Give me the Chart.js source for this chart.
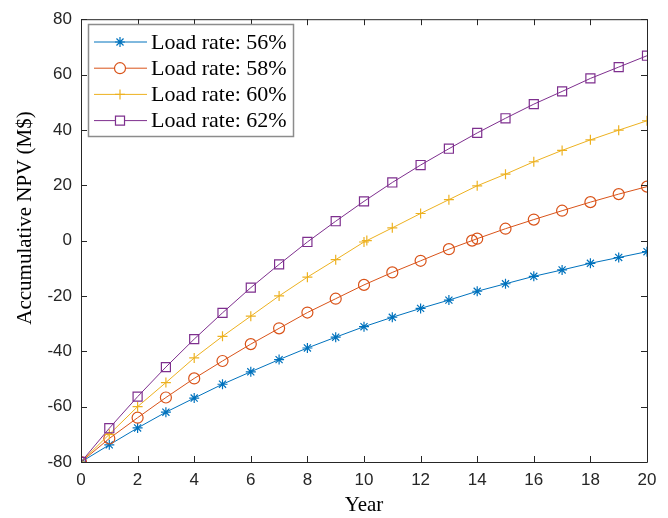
<!DOCTYPE html>
<html lang="en">
<head>
  <meta charset="UTF-8" />
  <title>Accumulative NPV</title>
  <script src="https://cdn.jsdelivr.net/npm/chart.js"></script>
  <style>
    body { margin: 0; background: #fff; }
    canvas { display: block; }
  </style>
</head>
<body>
  <canvas id="npvChart" width="668" height="518"></canvas>

  <script>
    // data
    const years = [0, 1, 2, 3, 4, 5, 6, 7, 8, 9, 10, 11, 12, 13, 14, 15, 16, 17, 18, 19, 20];
    const npv56 = [-80, -73.8, -67.7, -62, -56.9, -51.9, -47.4, -43, -38.8, -34.9, -31.1, -27.7, -24.5, -21.5, -18.3, -15.6, -12.9, -10.6, -8.2, -6.1, -4];
    const npv58 = [-80, -71.5, -64, -56.7, -49.8, -43.5, -37.4, -31.7, -26, -21, -16, -11.5, -7.3, -3.1, 0.7, 4.3, 7.6, 10.8, 13.9, 16.8, 19.5];
    const npv60 = [-80, -70, -60, -51.3, -42.4, -34.6, -27.3, -20, -13.2, -6.9, -0.5, 4.6, 9.8, 14.8, 19.8, 24, 28.5, 32.6, 36.4, 39.9, 43.3];
    const npv62 = [-80, -67.8, -56.4, -45.7, -35.6, -26.1, -17, -8.6, -0.5, 7, 14.2, 21, 27.3, 33.2, 38.9, 44.2, 49.3, 53.9, 58.6, 62.7, 66.8];
    // break-even points the figure adds on two curves: [year, npv]
    const breakEven58 = [13.82, 0];
    const breakEven60 = [10.1, 0];

    const labels = ['Load rate: 56%', 'Load rate: 58%', 'Load rate: 60%', 'Load rate: 62%'];
    const xTicks = [0, 2, 4, 6, 8, 10, 12, 14, 16, 18, 20];
    const yTicks = [-80, -60, -40, -20, 0, 20, 40, 60, 80];

    const colors = ['#0072BD', '#D95319', '#EDB120', '#7E2F8E'];
    const markers = ['star', 'circle', 'cross', 'rect'];
    const markerSize = [5, 5.5, 5, 6.4];

    const serif = '"Liberation Serif", "Times New Roman", serif';
    const sans = '"Liberation Sans", Arial, sans-serif';

    function toPoints(vals, extra) {
      const pts = years.map((x, i) => ({ x: x, y: vals[i] }));
      if (extra) pts.push({ x: extra[0], y: extra[1] });
      return pts.sort((a, b) => a.x - b.x);
    }

    const series = [toPoints(npv56), toPoints(npv58, breakEven58), toPoints(npv60, breakEven60), toPoints(npv62)];

    const datasets = series.map((pts, i) => ({
      label: labels[i],
      data: pts,
      borderColor: colors[i],
      backgroundColor: 'rgba(0,0,0,0)',
      borderWidth: 1,
      pointStyle: markers[i],
      pointRadius: markerSize[i],
      pointBorderColor: colors[i],
      pointBackgroundColor: 'rgba(0,0,0,0)',
      pointBorderWidth: 1.2,
      tension: 0,
      order: 3 - i
    }));

    // box, inward ticks, y label and the legend, MATLAB style
    const framePlugin = {
      id: 'frame',
      afterDraw(chart) {
        const ctx = chart.ctx;
        const a = chart.chartArea;
        const xs = chart.scales.x, ys = chart.scales.y;
        ctx.save();
        ctx.strokeStyle = '#262626';
        ctx.lineWidth = 1;
        ctx.beginPath();
        ctx.rect(a.left + 0.5, a.top + 0.5, a.right - a.left, a.bottom - a.top);
        const tl = 6;
        xTicks.forEach(v => {
          const px = Math.round(xs.getPixelForValue(v)) + 0.5;
          ctx.moveTo(px, a.bottom); ctx.lineTo(px, a.bottom - tl);
          ctx.moveTo(px, a.top); ctx.lineTo(px, a.top + tl);
        });
        yTicks.forEach(v => {
          const py = Math.round(ys.getPixelForValue(v)) + 0.5;
          ctx.moveTo(a.left, py); ctx.lineTo(a.left + tl, py);
          ctx.moveTo(a.right, py); ctx.lineTo(a.right - tl, py);
        });
        ctx.stroke();

        // y axis title (sits a bit above the axis centre in the original)
        ctx.save();
        ctx.translate(25, 218);
        ctx.rotate(-Math.PI / 2);
        ctx.font = '21px ' + serif;
        ctx.fillStyle = '#000';
        ctx.textAlign = 'center';
        ctx.textBaseline = 'middle';
        ctx.fillText('Accumulative NPV (M$)', 0, 0);
        ctx.restore();

        // legend
        const lx = 88, ly = 24, lw = 205, lh = 112;
        ctx.fillStyle = '#fff';
        ctx.fillRect(lx, ly, lw, lh);
        ctx.strokeStyle = '#8c8c8c';
        ctx.lineWidth = 1.5;
        ctx.strokeRect(lx + 0.5, ly + 0.5, lw, lh);
        ctx.font = '22px ' + serif;
        ctx.textBaseline = 'middle';
        labels.forEach((txt, i) => {
          const cy = ly + 18 + i * 26.2;
          ctx.strokeStyle = colors[i];
          ctx.lineWidth = 1;
          ctx.beginPath();
          ctx.moveTo(lx + 6, cy); ctx.lineTo(lx + 59, cy);
          ctx.stroke();
          ctx.lineWidth = 1.2;
          ctx.fillStyle = '#fff';
          Chart.helpers.drawPoint(ctx, {
            pointStyle: markers[i], radius: markerSize[i], rotation: 0, borderWidth: 1.2
          }, lx + 32, cy);
          ctx.fillStyle = '#000';
          ctx.fillText(txt, lx + 63, cy + 1);
        });
        ctx.restore();
      }
    };

    const ctx = document.getElementById('npvChart').getContext('2d');
    new Chart(ctx, {
      type: 'line',
      data: { datasets: datasets },
      options: {
        responsive: false,
        animation: false,
        layout: { padding: { top: 14, right: 21, left: 0, bottom: 0 } },
        plugins: { legend: { display: false }, tooltip: { enabled: false } },
        scales: {
          x: {
            type: 'linear',
            min: 0, max: 20,
            afterBuildTicks: s => { s.ticks = xTicks.map(v => ({ value: v })); },
            afterFit: s => { s.height = 56; },
            grid: { display: false, drawTicks: false },
            border: { display: false },
            ticks: { color: '#262626', padding: 8, font: { family: sans, size: 17 } },
            title: {
              display: true, text: 'Year', color: '#000', padding: { top: 0, bottom: 0 },
              font: { family: serif, size: 21 }
            }
          },
          y: {
            type: 'linear',
            min: -80, max: 80,
            afterBuildTicks: s => { s.ticks = yTicks.map(v => ({ value: v })); },
            afterFit: s => { s.width = 81; },
            grid: { display: false, drawTicks: false },
            border: { display: false },
            ticks: { color: '#262626', padding: 9, font: { family: sans, size: 17 } },
            title: { display: false }
          }
        }
      },
      plugins: [framePlugin]
    });
  </script>
</body>
</html>
